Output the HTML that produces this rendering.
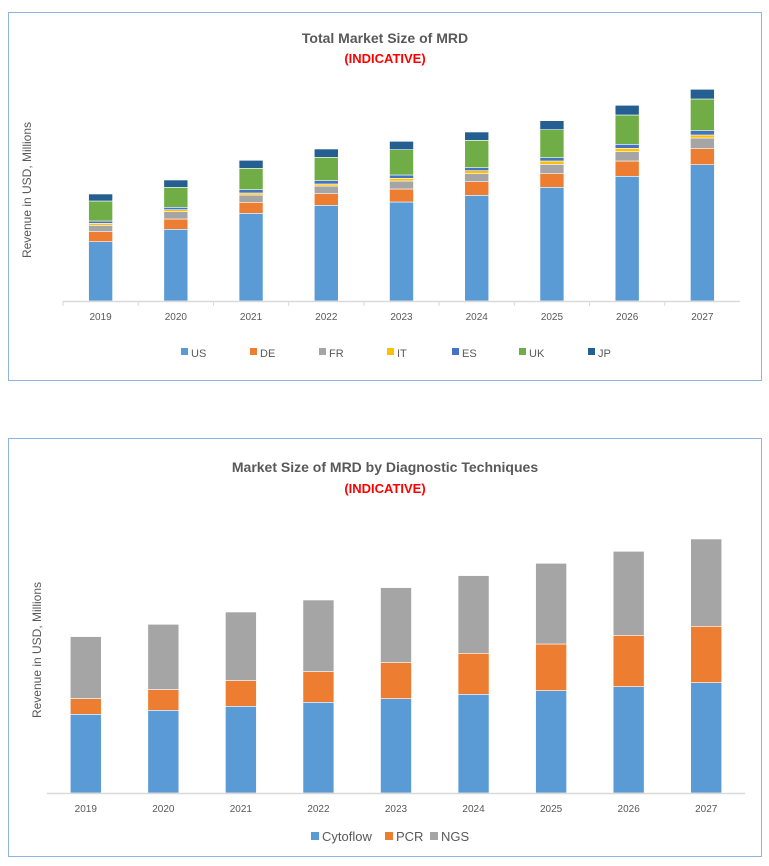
<!DOCTYPE html>
<html><head><meta charset="utf-8"><style>
body{margin:0;background:#fff;width:769px;height:866px;overflow:hidden;font-family:"Liberation Sans",sans-serif}
svg{position:absolute;left:0;top:0}
</style></head><body>
<svg id="svg" width="769" height="866" xmlns="http://www.w3.org/2000/svg">
<rect x="8.5" y="12.5" width="753" height="368" fill="#fff" stroke="#8eb4e3" stroke-width="1"/>
<text x="385" y="43" text-anchor="middle" font-size="14" font-weight="bold" fill="#595959">Total Market Size of MRD</text>
<text x="385" y="63" text-anchor="middle" font-size="13" font-weight="bold" fill="#ff0000">(INDICATIVE)</text>
<text transform="translate(31,190) rotate(-90)" text-anchor="middle" font-size="12" fill="#595959">Revenue in USD, Millions</text>
<rect x="8.5" y="438.5" width="753" height="418" fill="#fff" stroke="#8eb4e3" stroke-width="1"/>
<text x="385" y="472" text-anchor="middle" font-size="14" font-weight="bold" fill="#595959">Market Size of MRD by Diagnostic Techniques</text>
<text x="385" y="493" text-anchor="middle" font-size="13" font-weight="bold" fill="#ff0000">(INDICATIVE)</text>
<text transform="translate(41,650) rotate(-90)" text-anchor="middle" font-size="12" fill="#595959">Revenue in USD, Millions</text>
<g id="top"></g><g id="bot"></g>
</svg>
<script>
const years=["2019","2020","2021","2022","2023","2024","2025","2026","2027"];
const topSeries=["US","DE","FR","IT","ES","UK","JP"];
const topColors=["#5b9bd5","#ed7d31","#a5a5a5","#ffc000","#4472c4","#70ad47","#255e91"];
const usVals=[59.3,71.7,87.7,95.7,99,105.7,113.7,124.7,136.3];
const deVals=[10,10.3,11,11.6,13,13.6,13.6,15.3,16];
const frVals=[6.4,7.3,7.3,7.7,8,8,9.4,9.3,10.7];
const itVals=[2,2,2,2,2.7,3,3.3,3.4,3];
const esVals=[2.3,2.4,3.3,3.3,3.3,3,3.3,4,4.3];
const ukVals=[20,20,21.4,23.4,25.3,27.4,28,29.3,31.7];
const jpVals=[7,7.3,8,8.3,8.4,8.3,9,9.7,9.7];
const botSeries=["Cytoflow","PCR","NGS"];
const botColors=["#5b9bd5","#ed7d31","#a5a5a5"];
const cytoVals=[78.7,82.7,86.7,90.7,94.4,98.7,102.4,106.4,110.4];
const pcrVals=[15.7,20.7,25.7,30.7,36,41,46.6,51.3,56.3];
const ngsVals=[62,65.3,68.6,71.6,75,77.7,80.7,84,87.3];

const NS="http://www.w3.org/2000/svg";
function mk(tag,attrs,parent){const e=document.createElementNS(NS,tag);for(const k in attrs)e.setAttribute(k,attrs[k]);parent.appendChild(e);return e;}

function drawChart(g,cfg){
  const n=years.length,cw=(cfg.x1-cfg.x0)/n;
  const xs=i=>cfg.x0+cw*i+cw/2;
  const ys=v=>cfg.base-v*cfg.scale;
  cfg.series.forEach((vals,si)=>{
    vals.forEach((v,i)=>{
      let cum=0;for(let k=0;k<si;k++)cum+=cfg.series[k][i];
      const r=mk("rect",{x:xs(i)-cfg.bw/2,y:ys(cum+v),width:cfg.bw,height:v*cfg.scale,fill:cfg.colors[si],stroke:"#fff","stroke-width":"0.6"},g);
      
      
    });
  });
  const ax=mk("line",{x1:cfg.x0,x2:cfg.x1,y1:cfg.base+0.5,y2:cfg.base+0.5,stroke:"#d9d9d9","stroke-width":"1.5"},g);
  
  
  years.forEach((y,i)=>{
    if(cfg.ticks){const t=mk("line",{x1:cfg.x0+cw*i,x2:cfg.x0+cw*i,y1:cfg.base,y2:cfg.base+5,stroke:"#d9d9d9"},g);
      
      }
    const tx=mk("text",{x:xs(i),y:cfg.labelY,"text-anchor":"middle","font-size":"10",fill:"#595959"},g);
    tx.textContent=y;
    
    
  });
  cfg.names.forEach((nm,si)=>{
    const lx=cfg.legX[si];
    const m=mk("rect",{x:lx,y:cfg.legY-8,width:cfg.legSq,height:cfg.legSq,fill:cfg.colors[si]},g);
    
    
    const t=mk("text",{x:lx+cfg.legSq+3,y:cfg.legY+1,"font-size":cfg.legFont,fill:"#595959"},g);
    t.textContent=nm;
    
    
  });
}
drawChart(document.getElementById("top"),{prefix:"top-",x0:63,x1:740,base:301,scale:1,bw:24,ticks:true,labelY:320,
  series:[usVals,deVals,frVals,itVals,esVals,ukVals,jpVals],colors:topColors,names:topSeries,
  legX:[181,250,319,387,452,519,588],legY:356,legSq:7,legFont:"11"});
drawChart(document.getElementById("bot"),{prefix:"bottom-",x0:47,x1:745,base:793,scale:1,bw:31,ticks:false,labelY:812,
  series:[cytoVals,pcrVals,ngsVals],colors:botColors,names:botSeries,
  legX:[311,385,430],legY:840,legSq:8,legFont:"13"});
</script>
</body></html>
